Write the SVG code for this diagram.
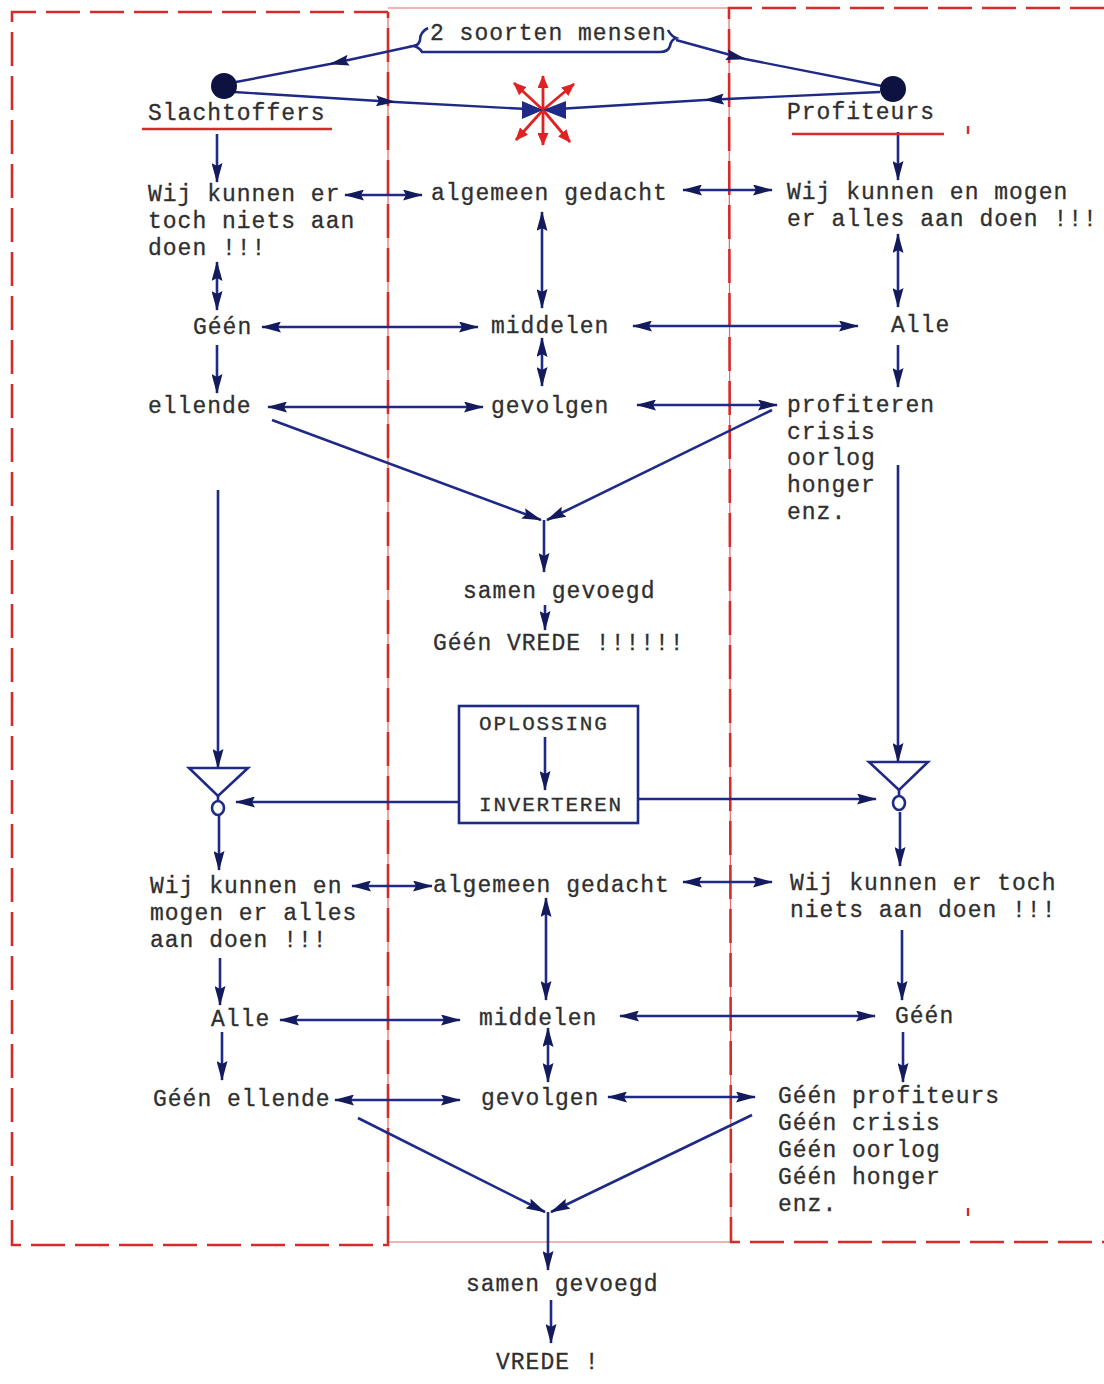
<svg xmlns="http://www.w3.org/2000/svg" width="1104" height="1384" viewBox="0 0 1104 1384">
<style>
.t{font-family:"Liberation Mono","Courier New",monospace;font-size:23px;letter-spacing:1px;fill:#2f2f2f;stroke:#2f2f2f;stroke-width:0.3}
.tb{font-family:"Liberation Mono","Courier New",monospace;font-size:21px;letter-spacing:1.8px;fill:#2f2f2f;stroke:#2f2f2f;stroke-width:0.3}
.c{stroke:#1f2a86;stroke-width:2.6;fill:none}
.ce{stroke:#1f2a86;stroke-width:2.6;fill:none;marker-end:url(#ah)}
.cd{stroke:#1f2a86;stroke-width:2.6;fill:none;marker-end:url(#ah);marker-start:url(#ah)}
.cm{stroke:#1f2a86;stroke-width:2.4;fill:none;marker-mid:url(#ah)}
.rd{stroke:#d62b2b;stroke-width:2.6;fill:none;stroke-dasharray:34 10}
.rt{stroke:#e46a6a;stroke-width:1.2;fill:none}
.ru{stroke:#d62b2b;stroke-width:2.4}
.rs{stroke:#e02222;stroke-width:2.8;fill:none;marker-end:url(#rh)}
</style>
<defs>
<marker id="ah" viewBox="0 0 20 11" refX="19" refY="5.5" markerWidth="20" markerHeight="11" markerUnits="userSpaceOnUse" orient="auto-start-reverse">
<path d="M0,0 L20,5.5 L0,11 L3,5.5 z" fill="#141b5c"/>
</marker>
<marker id="rh" viewBox="0 0 13 11" refX="12" refY="5.5" markerWidth="13" markerHeight="11" markerUnits="userSpaceOnUse" orient="auto">
<path d="M0,0 L13,5.5 L0,11 z" fill="#e02222"/>
</marker>
</defs>
<rect width="1104" height="1384" fill="#ffffff"/>

<g id="frame">
<line class="rt" x1="388" y1="8" x2="728" y2="8"/>
<line class="rt" x1="388" y1="1242" x2="732" y2="1242"/>
<line class="rt" x1="388" y1="12" x2="388" y2="1245"/>
<line class="rt" x1="729" y1="8" x2="731" y2="1242"/>
<path class="rd" d="M388,12 L12,12 L12,1245 L388,1245 L388,12"/>
<path class="rd" d="M1104,8 L729,8 L731,1242 L1104,1242"/>
<line class="ru" x1="968" y1="126" x2="968" y2="134"/>
<line class="ru" x1="968" y1="1208" x2="968" y2="1216"/>
</g>

<g id="connectors">
<path class="cm" d="M418,45 L330,64 L236,82"/>
<path class="cm" d="M676,40 L745,59 L882,86"/>
<path class="cm" d="M234,92 L395,102 L545,110"/>
<path class="cm" d="M880,92 L705,100 L541,110"/>
<line class="ce" x1="217" y1="134" x2="217" y2="182"/>
<line class="ce" x1="898" y1="132" x2="898" y2="180"/>
<line class="cd" x1="345" y1="195" x2="422" y2="195"/>
<line class="cd" x1="683" y1="190" x2="772" y2="190"/>
<line class="cd" x1="542" y1="212" x2="542" y2="308"/>
<line class="cd" x1="217" y1="262" x2="217" y2="310"/>
<line class="cd" x1="898" y1="234" x2="898" y2="307"/>
<line class="cd" x1="262" y1="327" x2="478" y2="327"/>
<line class="cd" x1="633" y1="326" x2="858" y2="326"/>
<line class="ce" x1="217" y1="345" x2="217" y2="393"/>
<line class="ce" x1="898" y1="345" x2="898" y2="387"/>
<line class="cd" x1="542" y1="338" x2="542" y2="386"/>
<line class="cd" x1="268" y1="407" x2="483" y2="407"/>
<line class="cd" x1="637" y1="405" x2="777" y2="405"/>
<line class="ce" x1="272" y1="420" x2="541" y2="520"/>
<line class="ce" x1="772" y1="410" x2="547" y2="520"/>
<line class="ce" x1="544" y1="520" x2="544" y2="572"/>
<line class="ce" x1="545" y1="605" x2="545" y2="630"/>
<line class="ce" x1="218" y1="490" x2="218" y2="768"/>
<line class="ce" x1="898" y1="465" x2="898" y2="762"/>
<line class="ce" x1="545" y1="737" x2="545" y2="790"/>
<line class="ce" x1="459" y1="802" x2="236" y2="802"/>
<line class="ce" x1="638" y1="799" x2="876" y2="799"/>
<line class="ce" x1="219" y1="816" x2="219" y2="870"/>
<line class="ce" x1="900" y1="812" x2="900" y2="866"/>
<line class="cd" x1="352" y1="886" x2="432" y2="886"/>
<line class="cd" x1="683" y1="882" x2="772" y2="882"/>
<line class="cd" x1="546" y1="898" x2="546" y2="1000"/>
<line class="ce" x1="220" y1="958" x2="220" y2="1005"/>
<line class="ce" x1="902" y1="930" x2="902" y2="1000"/>
<line class="cd" x1="280" y1="1020" x2="460" y2="1020"/>
<line class="cd" x1="620" y1="1016" x2="875" y2="1016"/>
<line class="ce" x1="222" y1="1032" x2="222" y2="1080"/>
<line class="cd" x1="548" y1="1028" x2="548" y2="1082"/>
<line class="ce" x1="903" y1="1032" x2="903" y2="1082"/>
<line class="cd" x1="335" y1="1100" x2="460" y2="1100"/>
<line class="cd" x1="608" y1="1097" x2="755" y2="1097"/>
<line class="ce" x1="358" y1="1118" x2="545" y2="1212"/>
<line class="ce" x1="752" y1="1115" x2="551" y2="1212"/>
<line class="ce" x1="548" y1="1212" x2="548" y2="1270"/>
<line class="ce" x1="551" y1="1300" x2="551" y2="1343"/>
</g>

<g id="n-title">
<text class="t" x="430" y="40">2 soorten mensen</text>
<path class="c" d="M428,28 Q420,32 420,40 Q419,45 414,46 Q420,48 422,52 L660,52 Q668,52 670,46 Q671,40 676,38 Q671,36 668,30"/>
</g>

<g id="n-star">
<line class="rs" x1="543" y1="110" x2="543" y2="76"/>
<line class="rs" x1="543" y1="110" x2="514" y2="83"/>
<line class="rs" x1="543" y1="110" x2="574" y2="84"/>
<line class="rs" x1="543" y1="110" x2="543" y2="145"/>
<line class="rs" x1="543" y1="110" x2="516" y2="140"/>
<line class="rs" x1="543" y1="110" x2="570" y2="142"/>
<polygon points="522,101 543,110 522,119" fill="#1f2a86"/>
<polygon points="566,101 543,110 566,119" fill="#1f2a86"/>
</g>

<g id="n-slachtoffers">
<circle cx="224" cy="86" r="13" fill="#0e1240"/>
<text class="t" x="148" y="120">Slachtoffers</text>
<line class="ru" x1="142" y1="129" x2="332" y2="129"/>
</g>
<g id="n-profiteurs">
<circle cx="893" cy="89" r="13" fill="#0e1240"/>
<text class="t" x="787" y="119">Profiteurs</text>
<line class="ru" x1="792" y1="134" x2="944" y2="134"/>
</g>

<g id="n-wij1"><text class="t" x="148" y="201">Wij kunnen er</text><text class="t" x="148" y="228">toch niets aan</text><text class="t" x="148" y="255">doen !!!</text></g>
<g id="n-alg1"><text class="t" x="431" y="200">algemeen gedacht</text></g>
<g id="n-wij2"><text class="t" x="787" y="199">Wij kunnen en mogen</text><text class="t" x="787" y="226">er alles aan doen !!!</text></g>
<g id="n-geen1"><text class="t" x="193" y="334">Géén</text></g>
<g id="n-midd1"><text class="t" x="491" y="333">middelen</text></g>
<g id="n-alle1"><text class="t" x="891" y="332">Alle</text></g>
<g id="n-ellende"><text class="t" x="148" y="413">ellende</text></g>
<g id="n-gev1"><text class="t" x="491" y="413">gevolgen</text></g>
<g id="n-prof"><text class="t" x="787" y="412">profiteren</text><text class="t" x="787" y="439">crisis</text><text class="t" x="787" y="465">oorlog</text><text class="t" x="787" y="492">honger</text><text class="t" x="787" y="519">enz.</text></g>
<g id="n-samen1"><text class="t" x="463" y="598">samen gevoegd</text></g>
<g id="n-geenvrede"><text class="t" x="433" y="650">Géén VREDE !!!!!!</text></g>

<g id="n-oplossing">
<rect x="459" y="706" width="179" height="117" fill="none" stroke="#1f2a86" stroke-width="2.6"/>
<text class="tb" x="479" y="730">OPLOSSING</text>
<text class="tb" x="479" y="811">INVERTEREN</text>
</g>

<g id="n-inv-left">
<polygon points="189,768 248,768 218,796" fill="none" stroke="#1f2a86" stroke-width="2.6"/>
<line class="c" x1="218" y1="796" x2="218" y2="801"/>
<ellipse cx="218" cy="808" rx="6" ry="7" fill="none" stroke="#1f2a86" stroke-width="2.6"/>
</g>
<g id="n-inv-right">
<polygon points="869,762 928,762 899,790" fill="none" stroke="#1f2a86" stroke-width="2.6"/>
<line class="c" x1="899" y1="790" x2="899" y2="796"/>
<ellipse cx="899" cy="803" rx="6" ry="7" fill="none" stroke="#1f2a86" stroke-width="2.6"/>
</g>

<g id="n-wij3"><text class="t" x="150" y="893">Wij kunnen en</text><text class="t" x="150" y="920">mogen er alles</text><text class="t" x="150" y="947">aan doen !!!</text></g>
<g id="n-alg2"><text class="t" x="433" y="892">algemeen gedacht</text></g>
<g id="n-wij4"><text class="t" x="790" y="890">Wij kunnen er toch</text><text class="t" x="790" y="917">niets aan doen !!!</text></g>
<g id="n-alle2"><text class="t" x="211" y="1026">Alle</text></g>
<g id="n-midd2"><text class="t" x="479" y="1025">middelen</text></g>
<g id="n-geen2"><text class="t" x="895" y="1023">Géén</text></g>
<g id="n-geenellende"><text class="t" x="153" y="1106">Géén ellende</text></g>
<g id="n-gev2"><text class="t" x="481" y="1105">gevolgen</text></g>
<g id="n-geenprof"><text class="t" x="778" y="1103">Géén profiteurs</text><text class="t" x="778" y="1130">Géén crisis</text><text class="t" x="778" y="1157">Géén oorlog</text><text class="t" x="778" y="1184">Géén honger</text><text class="t" x="778" y="1211">enz.</text></g>
<g id="n-samen2"><text class="t" x="466" y="1291">samen gevoegd</text></g>
<g id="n-vrede"><text class="t" x="496" y="1369">VREDE !</text></g>
</svg>
